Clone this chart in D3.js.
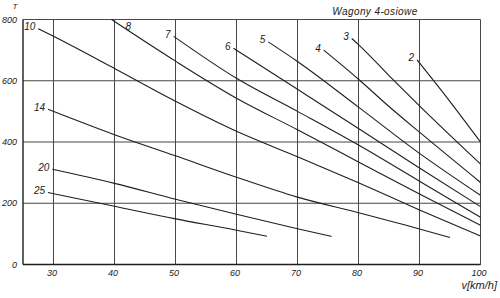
<!DOCTYPE html>
<html>
<head>
<meta charset="utf-8">
<script src="https://cdn.jsdelivr.net/npm/d3@7"></script>
<style>
  html, body { margin: 0; padding: 0; background: #fff; }
  svg { display: block; }
  text { font-family: "Liberation Sans", Arial, sans-serif; font-style: italic; fill: #222; }
</style>
</head>
<body>
<svg id="chart" width="500" height="298"></svg>
<script>
// ── data: [speed km/h, load T] ────────────────────────────
const curve2  = [[89.6, 668], [95, 532], [100, 400]];
const curve3  = [[78.9, 738], [80, 718], [85, 617], [90, 518], [100, 328]];
const curve4  = [[74.3, 700], [80, 605], [85, 516], [90, 432], [100, 268]];
const curve5  = [[65.2, 727], [70, 663], [80, 514], [90, 363], [100, 226]];
const curve6  = [[59.5, 706], [70, 572], [80, 444], [90, 315], [100, 189]];
const curve7  = [[49.7, 745], [60, 608], [70, 500], [80, 390], [90, 272], [100, 154]];
const curve8  = [[39.5, 800], [50, 664], [60, 543], [70, 440], [80, 335], [90, 230], [100, 128]];
const curve10 = [[27.5, 770], [30, 745], [40, 640], [50, 533], [60, 435], [70, 352], [80, 267], [90, 178], [100, 93]];
const curve14 = [[29.1, 507], [40, 424], [50, 355], [60, 285], [70, 220], [80, 169], [90, 116], [95, 88]];
const curve20 = [[29.8, 311], [40, 265], [50, 213], [60, 164], [70, 117], [75.6, 92]];
const curve25 = [[29.1, 235], [40, 190], [50, 149], [60, 112], [65, 92]];

const curveNames = ['2', '3', '4', '5', '6', '7', '8', '10', '14', '20', '25'];
const curveData  = [curve2, curve3, curve4, curve5, curve6, curve7, curve8, curve10, curve14, curve20, curve25];

const xTicks = [30, 40, 50, 60, 70, 80, 90, 100];
const yTicks = [0, 200, 400, 600, 800];

const title  = 'Wagony 4-osiowe';
const xLabel = 'v[km/h]';
const yLabel = 'T';

// ── layout ───────────────────────────────────────────────
const svg = d3.select('#chart');
const x = d3.scaleLinear().domain([25, 100]).range([23, 480.5]);
const y = d3.scaleLinear().domain([0, 800]).range([264.5, 19.5]);

const ink  = '#1e1e1e';
const grid = '#474747';

// ── grid lines ───────────────────────────────────────────
svg.append('g')
  .selectAll('line')
  .data(xTicks)
  .enter().append('line')
    .attr('x1', d => x(d)).attr('x2', d => x(d))
    .attr('y1', y(800)).attr('y2', y(0))
    .attr('stroke', grid).attr('stroke-width', 1);

svg.append('g')
  .selectAll('line')
  .data(yTicks)
  .enter().append('line')
    .attr('x1', x(25)).attr('x2', x(100))
    .attr('y1', d => y(d)).attr('y2', d => y(d))
    .attr('stroke', grid).attr('stroke-width', 1);

// axes (left + bottom drawn heavier)
svg.append('line')
  .attr('x1', x(25)).attr('x2', x(25))
  .attr('y1', y(800)).attr('y2', y(0))
  .attr('stroke', ink).attr('stroke-width', 1.4);
svg.append('line')
  .attr('x1', x(25)).attr('x2', x(100))
  .attr('y1', y(0)).attr('y2', y(0))
  .attr('stroke', ink).attr('stroke-width', 1.4);

// ── tick labels ──────────────────────────────────────────
svg.append('g')
  .selectAll('text')
  .data(yTicks)
  .enter().append('text')
    .attr('x', x(25) - 6)
    .attr('y', d => y(d) + 3.2)
    .attr('text-anchor', 'end')
    .attr('font-size', '9px')
    .text(d => d);

svg.append('g')
  .selectAll('text')
  .data(xTicks)
  .enter().append('text')
    .attr('x', d => x(d) - 1.5)
    .attr('y', y(0) + 11)
    .attr('text-anchor', 'middle')
    .attr('font-size', '9px')
    .text(d => d);

svg.append('text')
  .attr('x', 15).attr('y', 8.5)
  .attr('text-anchor', 'middle')
  .attr('font-size', '8px')
  .text(yLabel);

svg.append('text')
  .attr('x', 497).attr('y', 289)
  .attr('text-anchor', 'end')
  .attr('font-size', '11px')
  .text(xLabel);

svg.append('text')
  .attr('x', 375).attr('y', 15)
  .attr('text-anchor', 'middle')
  .attr('font-size', '10px')
  .attr('letter-spacing', '0.4px')
  .text(title);

// ── curves ───────────────────────────────────────────────
const line = d3.line()
  .x(d => x(d[0]))
  .y(d => y(d[1]))
  .curve(d3.curveMonotoneX);

svg.append('g')
  .selectAll('path')
  .data(curveData)
  .enter().append('path')
    .attr('d', line)
    .attr('fill', 'none')
    .attr('stroke', ink)
    .attr('stroke-width', 1.1);

// curve labels sit just left of where each curve begins;
// a curve cut off by the top border gets its label to the right
svg.append('g')
  .selectAll('text')
  .data(curveData)
  .enter().append('text')
    .attr('x', d => d[0][1] >= 800 ? x(d[0][0]) + 14 : x(d[0][0]) - 3)
    .attr('y', d => d[0][1] >= 800 ? y(d[0][1]) + 10 : y(d[0][1]) + 1.5)
    .attr('text-anchor', d => d[0][1] >= 800 ? 'start' : 'end')
    .attr('font-size', '10px')
    .text((d, i) => curveNames[i]);
</script>
</body>
</html>
